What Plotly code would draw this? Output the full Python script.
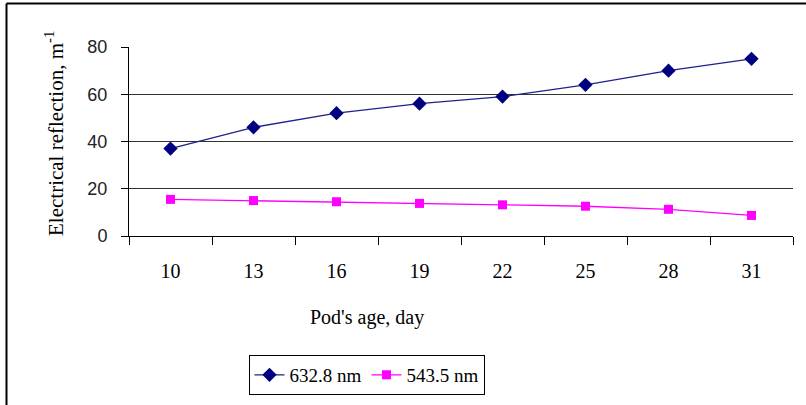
import plotly.graph_objects as go

days = ["10", "13", "16", "19", "22", "25", "28", "31"]
red_6328 = [37, 46, 52, 56, 59, 64, 70, 75]
green_5435 = [15.5, 15.0, 14.5, 13.8, 13.2, 12.6, 11.3, 8.7]
series_names = ["632.8 nm", "543.5 nm"]
y_ticks = [0, 20, 40, 60, 80]

W, H = 806, 405
L, R, T, B = 129, 793, 47, 236
SERIF = "Liberation Serif, Times New Roman, serif"
SANS = "Liberation Sans, Arial, sans-serif"

fig = go.Figure()
fig.add_trace(go.Scatter(
    x=days, y=red_6328, name=series_names[0], mode="lines+markers",
    line=dict(color="#1f1f8f", width=1.3),
    marker=dict(symbol="diamond", size=11, color="#000080"),
))
fig.add_trace(go.Scatter(
    x=days, y=green_5435, name=series_names[1], mode="lines+markers",
    line=dict(color="#FF00FF", width=1.3),
    marker=dict(symbol="square", size=9, color="#FF00FF"),
))

fig.update_layout(
    width=W, height=H,
    margin=dict(l=L, r=W - R, t=T, b=H - B, autoexpand=False),
    paper_bgcolor="white", plot_bgcolor="white",
    showlegend=True,
    legend=dict(
        orientation="h", x=(366.5 - L) / (R - L), xanchor="center",
        y=(B - 355) / (B - T), yanchor="top",
        bordercolor="black", borderwidth=1, bgcolor="white",
        font=dict(family=SERIF, size=19, color="black"),
        itemwidth=30, tracegroupgap=0,
    ),
    xaxis=dict(
        type="category", range=[-0.5, 7.5],
        showline=True, linecolor="black", linewidth=1,
        ticks="outside", tickson="boundaries", ticklen=8, tickcolor="black",
        tickfont=dict(family=SERIF, size=20, color="black"),
        ticklabelstandoff=17, showgrid=False, zeroline=False,
    ),
    yaxis=dict(
        range=[0, 80], tickvals=y_ticks,
        showline=True, linecolor="black", linewidth=1,
        ticks="outside", ticklen=7, tickcolor="black",
        tickfont=dict(family=SANS, size=18, color="#222"),
        ticklabelstandoff=10,
        showgrid=True, gridcolor="#333333", gridwidth=1, zeroline=False,
    ),
    shapes=[
        dict(type="line", xref="paper", yref="paper",
             x0=(6.5 - L) / (R - L), x1=(6.5 - L) / (R - L),
             y0=(B - 3.5) / (B - T), y1=(B - H) / (B - T),
             line=dict(color="black", width=2)),
        dict(type="line", xref="paper", yref="paper",
             x0=(6.5 - L) / (R - L), x1=(W - L) / (R - L),
             y0=(B - 3.5) / (B - T), y1=(B - 3.5) / (B - T),
             line=dict(color="black", width=2)),
    ],
    annotations=[
        dict(text="Pod's age, day", xref="paper", yref="paper",
             x=(367 - L) / (R - L), y=(B - 317) / (B - T),
             xanchor="center", yanchor="middle", showarrow=False,
             font=dict(family=SERIF, size=20, color="black")),
        dict(text="Electrical reflection, m<sup>-1</sup>", xref="paper", yref="paper",
             x=(54 - L) / (R - L), y=(B - 134) / (B - T),
             xanchor="center", yanchor="middle", showarrow=False, textangle=-90,
             font=dict(family=SERIF, size=21, color="black")),
    ],
)

fig.write_html("out.html", config={"displayModeBar": False},
               post_script="document.body.style.margin='0';document.body.style.overflow='hidden';")
